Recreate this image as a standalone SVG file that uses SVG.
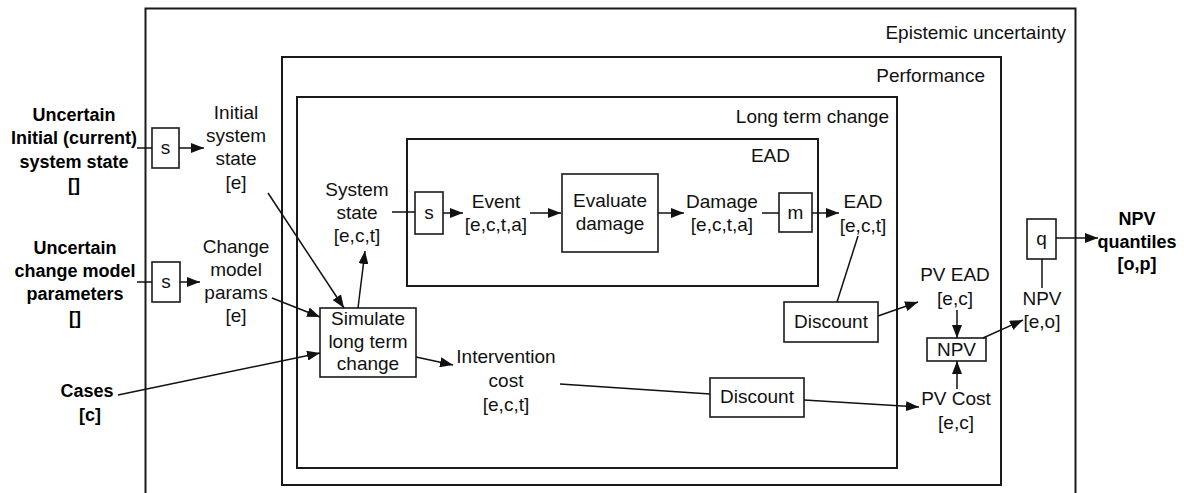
<svg xmlns="http://www.w3.org/2000/svg" width="1184" height="493" viewBox="0 0 1184 493">
<defs>
<style>
.c{fill:none;stroke:#1a1a1a;stroke-width:2}
.b{fill:#fff;stroke:#1a1a1a;stroke-width:1.6}
.t{font-family:"Liberation Sans",Arial,sans-serif;font-size:19px;fill:#111;text-anchor:middle}
.r{text-anchor:end}
.k{font-family:"Liberation Sans",Arial,sans-serif;font-size:18px;font-weight:bold;fill:#000;text-anchor:middle}
.l{fill:none;stroke:#111;stroke-width:1.5}
.a{marker-end:url(#ah)}
</style>
<marker id="ah" markerUnits="userSpaceOnUse" markerWidth="14" markerHeight="10" refX="13" refY="5" orient="auto">
<path d="M0,0 L13,5 L0,10 z" fill="#111"/>
</marker>
</defs>
<rect width="1184" height="493" fill="#fff"/>

<g id="epistemic">
<rect class="c" x="145.5" y="8.5" width="930" height="520"/>
<text class="t r" x="1066" y="39">Epistemic uncertainty</text>
</g>
<g id="performance">
<rect class="c" x="282" y="57" width="719" height="428"/>
<text class="t r" x="985" y="82">Performance</text>
</g>
<g id="longterm">
<rect class="c" x="297" y="97" width="600" height="371"/>
<text class="t r" x="889" y="123">Long term change</text>
</g>
<g id="ead-box">
<rect class="c" x="407" y="139" width="411" height="147"/>
<text class="t r" x="790" y="162">EAD</text>
</g>

<g id="in-initial">
<text class="k"><tspan x="74" y="121">Uncertain</tspan><tspan x="74" y="144">Initial (current)</tspan><tspan x="74" y="168">system state</tspan><tspan x="74" y="191">[]</tspan></text>
</g>
<g id="in-change">
<text class="k"><tspan x="75" y="254">Uncertain</tspan><tspan x="75" y="277">change model</tspan><tspan x="75" y="300">parameters</tspan><tspan x="75" y="324">[]</tspan></text>
</g>
<g id="in-cases">
<text class="k"><tspan x="87" y="397">Cases</tspan><tspan x="90" y="421">[c]</tspan></text>
</g>
<g id="s1"><rect class="b" x="152" y="128" width="27" height="40"/><text class="t" x="165.5" y="154">s</text></g>
<g id="s2"><rect class="b" x="152" y="262" width="28" height="40"/><text class="t" x="166" y="288">s</text></g>
<g id="initial-state"><text class="t"><tspan x="236" y="119">Initial</tspan><tspan x="236" y="142">system</tspan><tspan x="236" y="165">state</tspan><tspan x="236" y="189">[e]</tspan></text></g>
<g id="change-params"><text class="t"><tspan x="236" y="253">Change</tspan><tspan x="236" y="276">model</tspan><tspan x="236" y="299">params</tspan><tspan x="236" y="322">[e]</tspan></text></g>
<g id="simulate"><rect class="b" x="320" y="308" width="96" height="69"/><text class="t"><tspan x="368" y="325">Simulate</tspan><tspan x="368" y="348">long term</tspan><tspan x="368" y="370">change</tspan></text></g>
<g id="system-state"><text class="t"><tspan x="357" y="196">System</tspan><tspan x="357" y="219">state</tspan><tspan x="357" y="242">[e,c,t]</tspan></text></g>
<g id="s3"><rect class="b" x="415" y="192" width="28" height="42"/><text class="t" x="429" y="219">s</text></g>
<g id="event"><text class="t"><tspan x="496" y="208">Event</tspan><tspan x="496" y="231">[e,c,t,a]</tspan></text></g>
<g id="evaluate"><rect class="b" x="562" y="174" width="96" height="78"/><text class="t"><tspan x="610" y="207">Evaluate</tspan><tspan x="610" y="230">damage</tspan></text></g>
<g id="damage"><text class="t"><tspan x="722" y="208">Damage</tspan><tspan x="722" y="231">[e,c,t,a]</tspan></text></g>
<g id="m"><rect class="b" x="779" y="193" width="33" height="39"/><text class="t" x="795.5" y="219">m</text></g>
<g id="ead"><text class="t"><tspan x="863" y="208">EAD</tspan><tspan x="863" y="232">[e,c,t]</tspan></text></g>
<g id="discount1"><rect class="b" x="784" y="302" width="94" height="40"/><text class="t" x="831" y="328">Discount</text></g>
<g id="intervention"><text class="t"><tspan x="506" y="363">Intervention</tspan><tspan x="506" y="387">cost</tspan><tspan x="506" y="411">[e,c,t]</tspan></text></g>
<g id="discount2"><rect class="b" x="710" y="378" width="94" height="39"/><text class="t" x="757" y="403">Discount</text></g>
<g id="pv-ead"><text class="t"><tspan x="955" y="281">PV EAD</tspan><tspan x="955" y="305">[e,c]</tspan></text></g>
<g id="npv-node"><rect class="b" x="927" y="338" width="59" height="23"/><text class="t" x="956.5" y="356">NPV</text></g>
<g id="pv-cost"><text class="t"><tspan x="956" y="405">PV Cost</tspan><tspan x="956" y="429">[e,c]</tspan></text></g>
<g id="npv"><text class="t"><tspan x="1042" y="305">NPV</tspan><tspan x="1042" y="328">[e,o]</tspan></text></g>
<g id="q"><rect class="b" x="1027" y="219" width="29" height="40"/><text class="t" x="1041.5" y="245">q</text></g>
<g id="npv-quantiles"><text class="k"><tspan x="1137" y="225">NPV</tspan><tspan x="1137" y="248">quantiles</tspan><tspan x="1137" y="270">[o,p]</tspan></text></g>

<g id="connectors">
<line class="l" x1="137" y1="148" x2="152" y2="148"/>
<line class="l a" x1="179" y1="148" x2="204" y2="148"/>
<line class="l" x1="137" y1="282" x2="152" y2="282"/>
<line class="l a" x1="180" y1="282" x2="200" y2="282"/>
<line class="l a" x1="268" y1="193" x2="344" y2="308"/>
<line class="l a" x1="272" y1="298" x2="320" y2="317"/>
<line class="l a" x1="118" y1="395" x2="320" y2="353"/>
<line class="l a" x1="358" y1="308" x2="365" y2="251"/>
<line class="l" x1="392" y1="212" x2="415" y2="212"/>
<line class="l a" x1="443" y1="213" x2="463" y2="213"/>
<line class="l a" x1="530" y1="213" x2="561" y2="213"/>
<line class="l a" x1="658" y1="213" x2="684" y2="213"/>
<line class="l" x1="762" y1="213" x2="779" y2="213"/>
<line class="l a" x1="812" y1="213" x2="839" y2="213"/>
<line class="l" x1="858" y1="236" x2="837" y2="302"/>
<line class="l a" x1="878" y1="316" x2="918" y2="302"/>
<line class="l a" x1="416" y1="357" x2="453" y2="365"/>
<line class="l" x1="560" y1="384" x2="710" y2="394"/>
<line class="l a" x1="804" y1="400" x2="919" y2="407"/>
<line class="l a" x1="957" y1="310" x2="957" y2="338"/>
<line class="l a" x1="957" y1="389" x2="957" y2="361"/>
<line class="l a" x1="983" y1="338" x2="1023" y2="320"/>
<line class="l" x1="1042" y1="288" x2="1042" y2="259"/>
<line class="l a" x1="1056" y1="238" x2="1098" y2="238"/>
</g>
</svg>
